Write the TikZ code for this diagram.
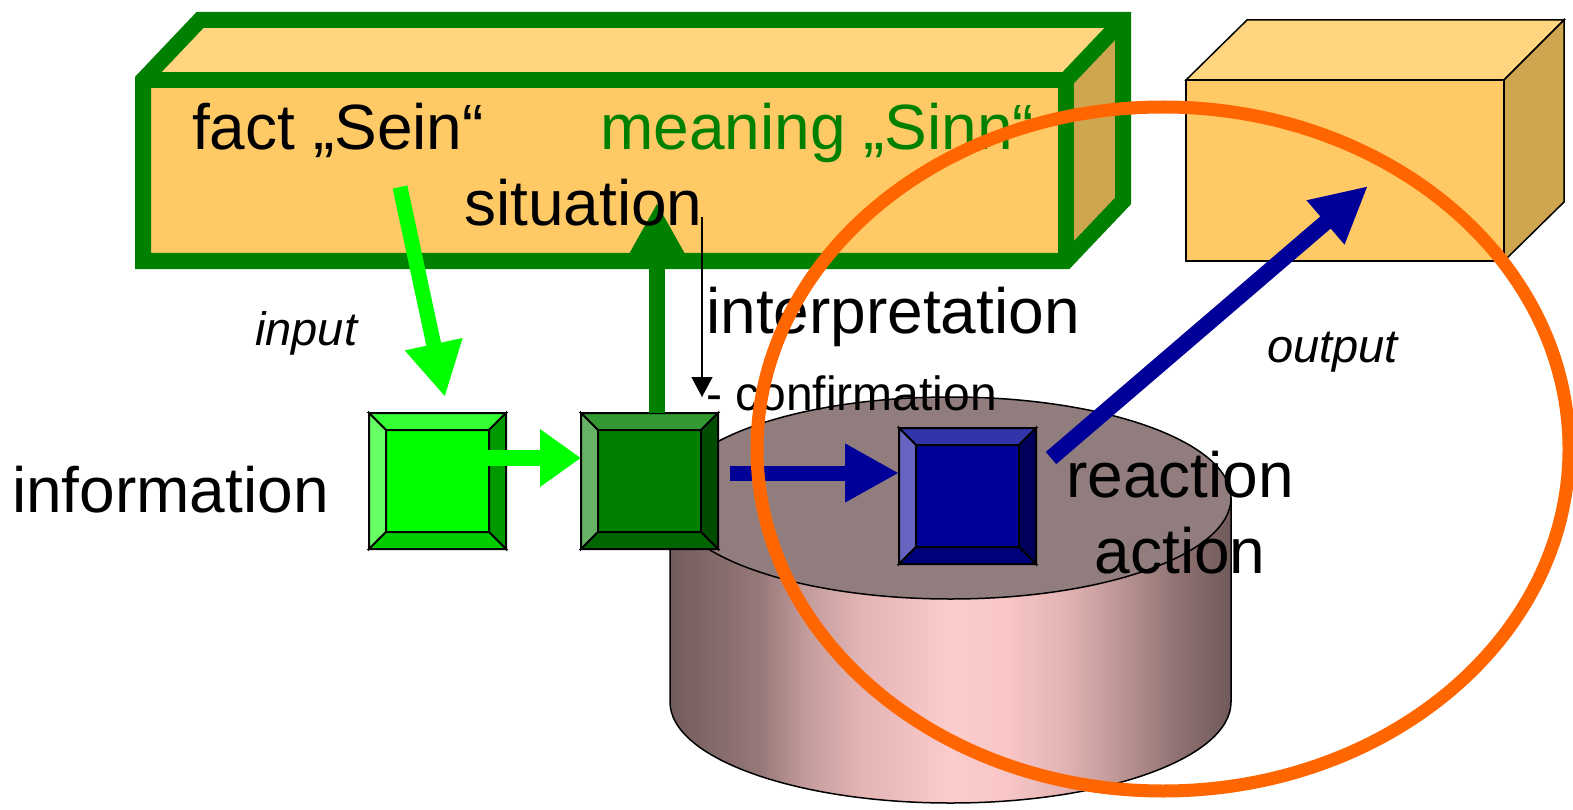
\documentclass[tikz,border=0pt]{standalone}
\usepackage{fontspec}
\setmainfont{Liberation Sans}
\usetikzlibrary{arrows.meta,calc}
\definecolor{dkgreen}{RGB}{0,128,0}
\definecolor{ltgreen}{RGB}{0,255,0}
\definecolor{blue9}{RGB}{0,0,153}
\definecolor{orng}{RGB}{255,102,0}
\definecolor{boxfront}{RGB}{255,202,102}
\definecolor{boxtop}{RGB}{255,213,128}
\definecolor{boxside}{RGB}{207,166,80}
\definecolor{cyltop}{RGB}{145,125,125}
\definecolor{cyA}{RGB}{115,92,92}
\definecolor{cyB}{RGB}{150,120,120}
\definecolor{cyC}{RGB}{195,155,155}
\definecolor{cyD}{RGB}{228,180,180}
\definecolor{cyE}{RGB}{252,204,204}
\definecolor{cyF}{RGB}{248,198,198}
\definecolor{cyG}{RGB}{190,150,150}
\definecolor{cyH}{RGB}{145,115,115}
\definecolor{cyI}{RGB}{112,90,90}
\pgfdeclarehorizontalshading{cylshade}{100bp}{color(0bp)=(cyA); color(25bp)=(cyA); color(33bp)=(cyB); color(37bp)=(cyC); color(42bp)=(cyD); color(50bp)=(cyE); color(55bp)=(cyF); color(60bp)=(cyD); color(65bp)=(cyG); color(70bp)=(cyH); color(75bp)=(cyI); color(100bp)=(cyI)}
\newcommand\bevelsq[6]{%
  \fill[#2] (#1.north west) rectangle (#1.south east);
  \filldraw[fill=#3,bevline] (#1.north west) -- (#1.north east) -- ($(#1.north east)+(-17,17)$) -- ($(#1.north west)+(17,17)$) -- cycle;
  \filldraw[fill=#4,bevline] (#1.north west) -- ($(#1.north west)+(17,17)$) -- ($(#1.south west)+(17,-17)$) -- (#1.south west) -- cycle;
  \filldraw[fill=#5,bevline] (#1.north east) -- (#1.south east) -- ($(#1.south east)+(-17,-17)$) -- ($(#1.north east)+(-17,17)$) -- cycle;
  \filldraw[fill=#6,bevline] (#1.south west) -- (#1.south east) -- ($(#1.south east)+(-17,-17)$) -- ($(#1.south west)+(17,-17)$) -- cycle;
  \draw[bevline] ($(#1.north west)+(17,17)$) rectangle ($(#1.south east)+(-17,-17)$);
  \draw[bevline] (#1.north west) rectangle (#1.south east);
}
\begin{document}
\begin{tikzpicture}[x=1pt,y=-1pt,
  bigframe/.style={draw=dkgreen,line width=16,line join=miter},
  thinframe/.style={draw=black,line width=1.5,line join=miter},
  bevline/.style={draw=black,line width=2},
  sqnode/.style={minimum width=137pt,minimum height=136pt,inner sep=0,outer sep=0},
  bigtxt/.style={font=\fontsize{64}{77}\selectfont,inner sep=0},
  midtxt/.style={font=\fontsize{48}{58}\selectfont,inner sep=0},
  ittxt/.style={font=\fontsize{47}{56}\selectfont\itshape,inner sep=0},
  fatarrow/.style={line width=16},
]
\useasboundingbox (0,0) rectangle (1573,810);
\fill[white] (0,0) rectangle (1573,810);

% big situation box
\path[fill=boxtop] (143,80) -- (200,20) -- (1123,20) -- (1066,80) -- cycle;
\path[fill=boxside] (1066,80) -- (1123,20) -- (1123,201) -- (1066,261) -- cycle;
\path[fill=boxfront] (143,80) rectangle (1066,261);
\draw[bigframe] (143,261) -- (143,80) -- (200,20) -- (1123,20) -- (1123,201) -- (1066,261) -- cycle;
\draw[bigframe] (143,80) -- (1066,80) -- (1066,261);
\draw[bigframe] (1066,80) -- (1123,20);

% output box
\filldraw[fill=boxtop,thinframe] (1186,80) -- (1247,20) -- (1564,20) -- (1504,80) -- cycle;
\filldraw[fill=boxside,thinframe] (1504,80) -- (1564,20) -- (1564,202) -- (1504,261) -- cycle;
\filldraw[fill=boxfront,thinframe] (1186,80) rectangle (1504,261);
\coordinate (outtip) at (1368,186);

% cylinder
\path[shading=cylshade,draw=black,line width=1.5] (670,498) -- (670,702) arc[start angle=180,end angle=0,x radius=280.5,y radius=101] -- (1231,498) -- cycle;
\filldraw[fill=cyltop,draw=black,line width=1.5] (950.5,498) ellipse[x radius=280.5,y radius=101];

% squares
\node[sqnode] (sq1) at (437.5,481) {};
\node[sqnode] (sq2) at (649.5,481) {};
\node[sqnode] (sq3) at (967.5,496) {};
\bevelsq{sq1}{ltgreen}{{rgb,255:red,51;green,255;blue,51}}{{rgb,255:red,102;green,255;blue,102}}{{rgb,255:red,0;green,153;blue,0}}{{rgb,255:red,0;green,204;blue,0}}
\bevelsq{sq2}{dkgreen}{{rgb,255:red,51;green,153;blue,51}}{{rgb,255:red,102;green,179;blue,102}}{{rgb,255:red,0;green,77;blue,0}}{{rgb,255:red,0;green,102;blue,0}}
\bevelsq{sq3}{blue9}{{rgb,255:red,51;green,51;blue,170}}{{rgb,255:red,102;green,102;blue,194}}{{rgb,255:red,0;green,0;blue,92}}{{rgb,255:red,0;green,0;blue,122}}

% text nodes that arrows start from
\node[bigtxt,anchor=base west] (fact) at (192,150) {fact „Sein“};
\coordinate (facttail) at (400,187);
\coordinate (sittip) at (657,203);
\coordinate (interpstart) at (702,217);

% arrows
\draw[ltgreen,line width=15,-{Triangle[length=54pt,width=55pt]}] (facttail) -- ($(sq1.north)+(7.5,-16)$);
\draw[ltgreen,fatarrow,-{Triangle[length=41pt,width=55pt]}] ($(sq1.east)+(-18,-23)$) -- ($(sq2.west)+(0,-23)$);
\draw[dkgreen,fatarrow,-{Triangle[length=50pt,width=51pt]}] ($(sq2.north)+(7.5,0)$) -- (sittip);
\draw[black,line width=1.2,-{Triangle[length=20pt,width=21pt]}] (interpstart) -- ($(sq2.north east)+(-16,-16)$);
\draw[blue9,line width=15,-{Triangle[length=54pt,width=55pt]}] ($(sq2.east)+(12,-8)$) -- ($(sq3.west)+(0,-23)$);
\draw[blue9,fatarrow,-{Triangle[length=56pt,width=54pt]}] ($(sq3.east)+(15,-38)$) -- (outtip);

% texts
\node[bigtxt,anchor=base west,text=dkgreen] (meaning) at (600,150) {meaning „Sinn“};
\node[bigtxt,anchor=base west] (situation) at (464,226) {situation};
\node[bigtxt,anchor=base west] (interp) at (706,333) {interpretation};
\node[midtxt,anchor=base west] (confirm) at (706,410) {- confirmation};
\node[ittxt,anchor=base west] (input) at (255,345) {input};
\node[ittxt,anchor=base west] (output) at (1267,362) {output};
\node[bigtxt,anchor=base west] (information) at (12,512) {information};
\node[bigtxt,anchor=base] (reaction) at (1180,497) {reaction};
\node[bigtxt,anchor=base] (action) at (1180,573) {action};

% orange ring
\draw[orng,line width=13] (1163,449) ellipse[x radius=406,y radius=342];
\end{tikzpicture}
\end{document}
